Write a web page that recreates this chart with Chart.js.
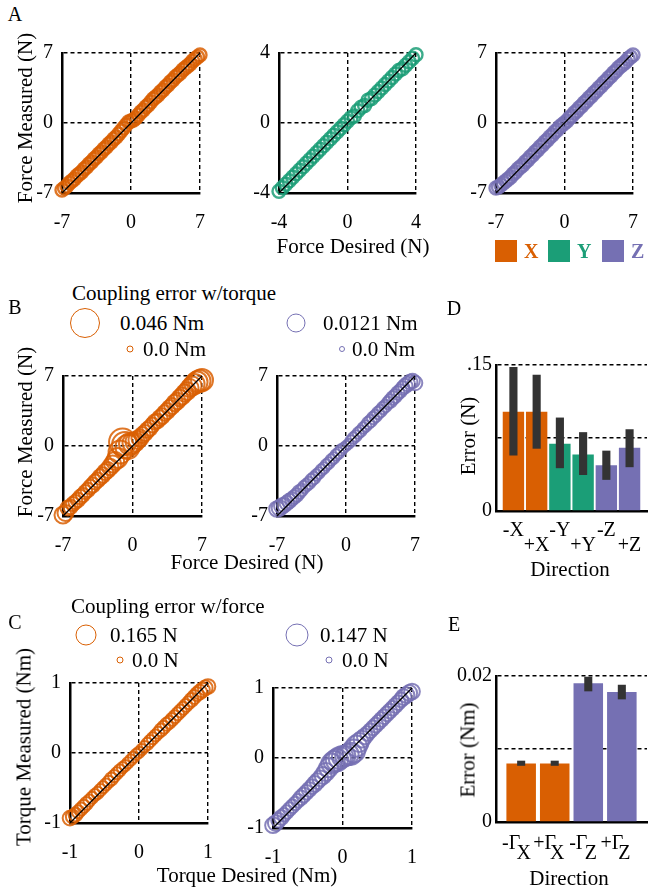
<!DOCTYPE html>
<html>
<head>
<meta charset="utf-8">
<script src="https://cdn.jsdelivr.net/npm/chart.js@4.4.1/dist/chart.umd.min.js"></script>
<style>
  html, body { margin: 0; padding: 0; background: #fff; overflow: hidden; }
  #fig { position: relative; width: 648px; height: 888px; overflow: hidden;
         font-family: 'Liberation Serif', 'DejaVu Serif', serif; color: #000; }
  #fig canvas { position: absolute; }
  .t { position: absolute; white-space: nowrap; font-size: 21px; line-height: 1; }
  .c { transform: translate(-50%, -50%); }
  .l { transform: translate(0, -50%); }
  .v { transform: translate(-50%, -50%) rotate(-90deg); }
  .ring { position: absolute; border-radius: 50%; box-sizing: border-box; transform: translate(-50%, -50%); }
  .sq { position: absolute; width: 22px; height: 22px; }
</style>
</head>
<body>
<div id="fig"></div>
<script>
// ---------- data ----------
const forceTicks = [-7, 0, 7];
const forceYTicks = [-4, 0, 4];
const torqueTicks = [-1, 0, 1];

const forceDesired = [-7, -6.75, -6.5, -6.25, -6, -5.75, -5.5, -5.25, -5, -4.75, -4.5, -4.25, -4, -3.75, -3.5, -3.25, -3, -2.75, -2.5,
  -2.25, -2, -1.75, -1.5, -1.25, -1, -0.75, -0.5, -0.25, 0, 0.25, 0.5, 0.75, 1, 1.25, 1.5, 1.75, 2, 2.25, 2.5, 2.75, 3, 3.25, 3.5,
  3.75, 4, 4.25, 4.5, 4.75, 5, 5.25, 5.5, 5.75, 6, 6.25, 6.5, 6.75, 7];
const measuredAX = [-6.7, -6.5, -6.3, -6.0, -5.8, -5.6, -5.3, -5.1, -4.9, -4.6, -4.4, -4.1, -3.9, -3.6, -3.4, -3.1, -2.9, -2.6, -2.4,
  -2.1, -1.9, -1.6, -1.4, -1.1, -0.8, -0.5, -0.2, 0.1, 0.2, 0.3, 0.5, 0.8, 1.1, 1.3, 1.6, 1.8, 2.1, 2.4, 2.6, 2.8, 3.1, 3.3, 3.6,
  3.8, 4.1, 4.3, 4.6, 4.8, 5.0, 5.3, 5.5, 5.7, 5.9, 6.2, 6.4, 6.6, 6.8];
const measuredAZ = [-6.5, -6.4, -6.2, -6.0, -5.8, -5.6, -5.4, -5.1, -4.9, -4.6, -4.4, -4.2, -3.9, -3.7, -3.4, -3.2, -2.9, -2.7, -2.4,
  -2.2, -1.9, -1.7, -1.4, -1.2, -0.9, -0.7, -0.4, -0.2, 0.0, 0.2, 0.5, 0.7, 1.0, 1.2, 1.5, 1.7, 2.0, 2.2, 2.5, 2.7, 3.0, 3.2, 3.5,
  3.7, 4.0, 4.2, 4.5, 4.7, 5.0, 5.2, 5.5, 5.7, 5.9, 6.1, 6.4, 6.6, 6.8];

const yDesired = [-4, -3.8, -3.6, -3.4, -3.2, -3, -2.8, -2.6, -2.4, -2.2, -2, -1.8, -1.6, -1.4, -1.2, -1, -0.8, -0.6, -0.4, -0.2, 0,
  0.2, 0.4, 0.6, 0.8, 1, 1.2, 1.4, 1.6, 1.8, 2, 2.2, 2.4, 2.6, 2.8, 3, 3.2, 3.4, 3.6, 3.8, 4];
const measuredAY = [-3.9, -3.7, -3.5, -3.3, -3.1, -2.9, -2.7, -2.5, -2.3, -2.1, -1.9, -1.7, -1.5, -1.3, -1.1, -0.9, -0.7, -0.5, -0.3, -0.1, 0.1,
  0.3, 0.4, 0.7, 0.9, 1.0, 1.3, 1.4, 1.6, 1.8, 2.0, 2.2, 2.4, 2.6, 2.8, 3.0, 3.1, 3.3, 3.5, 3.7, 3.9];

// B: force with coupling error in torque (Nm)
const measuredBX = [-6.9, -6.7, -6.2, -6.1, -5.8, -5.6, -5.4, -5.1, -4.9, -4.6, -4.4, -4.1, -3.9, -3.6, -3.4, -3.1, -2.9, -2.6, -2.4,
  -2.1, -1.8, -1.5, -1.2, -0.6, 0.4, 0.1, -0.1, 0.2, 0.3, 0.4, 0.6, 0.8, 1.1, 1.3, 1.6, 1.8, 2.1, 2.4, 2.5, 2.8, 3.0, 3.3, 3.5,
  3.8, 4.0, 4.3, 4.5, 4.8, 5.0, 5.3, 5.5, 5.8, 6.0, 6.2, 6.4, 6.5, 6.6];
const couplingBX = [0.020, 0.018, 0.016, 0.015, 0.014, 0.014, 0.015, 0.015, 0.014, 0.014, 0.015, 0.015, 0.016, 0.016, 0.016, 0.017, 0.017,
  0.018, 0.018, 0.019, 0.020, 0.022, 0.026, 0.032, 0.040, 0.038, 0.034, 0.030, 0.026, 0.024, 0.022, 0.020, 0.018, 0.018, 0.017, 0.017,
  0.016, 0.016, 0.016, 0.017, 0.017, 0.017, 0.018, 0.018, 0.018, 0.019, 0.019, 0.019, 0.020, 0.020, 0.021, 0.022, 0.024, 0.026, 0.028,
  0.030, 0.030];
const measuredBZ = [-6.3, -6.2, -6.0, -5.9, -5.7, -5.5, -5.3, -5.1, -4.9, -4.6, -4.4, -4.1, -3.9, -3.7, -3.4, -3.2, -2.9, -2.7, -2.4,
  -2.2, -1.9, -1.7, -1.4, -1.2, -0.9, -0.7, -0.4, -0.2, 0.0, 0.2, 0.5, 0.8, 1.0, 1.3, 1.5, 1.8, 2.0, 2.3, 2.5, 2.8, 3.0, 3.3, 3.5,
  3.8, 4.0, 4.3, 4.5, 4.8, 5.0, 5.3, 5.5, 5.8, 6.0, 6.2, 6.4, 6.5, 6.3];
const couplingBZ = [0.009, 0.009, 0.009, 0.008, 0.008, 0.008, 0.007, 0.007, 0.007, 0.007, 0.006, 0.006, 0.006, 0.006, 0.006, 0.006, 0.005,
  0.005, 0.005, 0.005, 0.005, 0.005, 0.005, 0.005, 0.005, 0.005, 0.005, 0.004, 0.004, 0.004, 0.005, 0.005, 0.005, 0.005, 0.005, 0.005,
  0.005, 0.006, 0.006, 0.006, 0.006, 0.006, 0.006, 0.006, 0.006, 0.006, 0.007, 0.007, 0.007, 0.007, 0.007, 0.007, 0.008, 0.008, 0.008,
  0.008, 0.008];
const couplingMaxB = [0.046, 0.0121];

// C: torque with coupling error in force (N)
const torqueDesired = [-1, -0.96, -0.92, -0.88, -0.84, -0.8, -0.76, -0.72, -0.68, -0.64, -0.6, -0.56, -0.52, -0.48, -0.44, -0.4, -0.36,
  -0.32, -0.28, -0.24, -0.2, -0.16, -0.12, -0.08, -0.04, 0, 0.04, 0.08, 0.12, 0.16, 0.2, 0.24, 0.28, 0.32, 0.36, 0.4, 0.44, 0.48, 0.52,
  0.56, 0.6, 0.64, 0.68, 0.72, 0.76, 0.8, 0.84, 0.88, 0.92, 0.96, 1];
const measuredCX = [-0.93, -0.91, -0.88, -0.84, -0.8, -0.76, -0.72, -0.68, -0.64, -0.6, -0.57, -0.53, -0.49, -0.45, -0.41, -0.37, -0.33,
  -0.29, -0.25, -0.21, -0.18, -0.14, -0.1, -0.06, -0.02, 0.01, 0.05, 0.09, 0.13, 0.17, 0.21, 0.25, 0.29, 0.33, 0.37, 0.41, 0.44, 0.48, 0.52,
  0.56, 0.6, 0.64, 0.68, 0.72, 0.76, 0.8, 0.84, 0.87, 0.9, 0.93, 0.95];
const couplingCX = [0.09, 0.08, 0.08, 0.07, 0.07, 0.07, 0.07, 0.06, 0.06, 0.06, 0.06, 0.06, 0.06, 0.06, 0.06, 0.07, 0.06, 0.06, 0.06,
  0.05, 0.05, 0.05, 0.05, 0.05, 0.05, 0.05, 0.05, 0.05, 0.06, 0.06, 0.06, 0.06, 0.06, 0.07, 0.07, 0.07, 0.07, 0.07, 0.07, 0.07, 0.07,
  0.07, 0.07, 0.07, 0.08, 0.08, 0.08, 0.09, 0.09, 0.09, 0.09];
const measuredCZ = [-0.96, -0.93, -0.89, -0.85, -0.81, -0.77, -0.73, -0.69, -0.65, -0.61, -0.57, -0.53, -0.49, -0.45, -0.41, -0.37, -0.33,
  -0.29, -0.25, -0.2, -0.14, -0.08, -0.05, -0.03, 0.0, 0.02, 0.03, 0.05, 0.06, 0.1, 0.17, 0.22, 0.27, 0.31, 0.35, 0.39, 0.43, 0.47, 0.51,
  0.55, 0.59, 0.63, 0.67, 0.71, 0.75, 0.79, 0.83, 0.87, 0.9, 0.93, 0.95];
const couplingCZ = [0.08, 0.08, 0.07, 0.07, 0.06, 0.06, 0.06, 0.06, 0.06, 0.06, 0.07, 0.07, 0.07, 0.07, 0.07, 0.08, 0.08, 0.08, 0.09,
  0.1, 0.11, 0.12, 0.13, 0.14, 0.14, 0.13, 0.12, 0.13, 0.14, 0.145, 0.13, 0.11, 0.09, 0.08, 0.07, 0.07, 0.07, 0.07, 0.07, 0.07, 0.07,
  0.07, 0.07, 0.07, 0.07, 0.07, 0.07, 0.08, 0.08, 0.08, 0.08];
const couplingMaxC = [0.165, 0.147];

// D: force error per direction (N)
const dirD = ['-X', '+X', '-Y', '+Y', '-Z', '+Z'];
const errD = [0.102, 0.102, 0.069, 0.058, 0.047, 0.065];
const errDLow = [0.057, 0.064, 0.044, 0.037, 0.032, 0.045];
const errDHigh = [0.148, 0.140, 0.096, 0.081, 0.062, 0.084];
const yTicksD = [0, 0.075, 0.15];
const yLabelsD = ['0', '', '.15'];

// E: torque error per direction (Nm)
const dirE = ['-ΓX', '+ΓX', '-ΓZ', '+ΓZ'];
const errE = [0.0080, 0.0080, 0.0190, 0.0178];
const errELow = [0.0077, 0.0077, 0.0179, 0.0168];
const errEHigh = [0.0084, 0.0084, 0.0199, 0.0188];
const yTicksE = [0, 0.01, 0.02];
const yLabelsE = ['0', '', '0.02'];

// ---------- style ----------
const ORANGE = '#d95f02', GREEN = '#1b9e77', PURPLE = '#7570b3';
const FONT = 'Liberation Serif';
Chart.defaults.font.family = FONT;
Chart.defaults.color = '#000';
const PADL = 44, PADT = 12, PADR = 12;

const fig = document.getElementById('fig');

function text(str, x, y, cls, css) {
  const d = document.createElement('div');
  d.className = 't ' + cls;
  d.textContent = str;
  d.style.left = x + 'px';
  d.style.top = y + 'px';
  Object.assign(d.style, css || {});
  fig.appendChild(d);
}
function ring(x, y, r, color) {
  const d = document.createElement('div');
  d.className = 'ring';
  d.style.left = x + 'px';
  d.style.top = y + 'px';
  d.style.width = d.style.height = (2 * r) + 'px';
  d.style.border = '1.5px solid ' + color;
  fig.appendChild(d);
}
function addCanvas(box, padB) {
  const cv = document.createElement('canvas');
  cv.width = box.w + PADL + PADR;
  cv.height = box.h + PADT + padB;
  cv.style.left = (box.l - PADL) + 'px';
  cv.style.top = (box.t - PADT) + 'px';
  fig.appendChild(cv);
  return cv;
}
function fa(c, a) {
  const n = parseInt(c.slice(1), 16);
  return `rgba(${n >> 16},${(n >> 8) & 255},${n & 255},${a})`;
}

function linAxis(ticks, isX) {
  return {
    type: 'linear', min: ticks[0], max: ticks[ticks.length - 1],
    afterBuildTicks: s => { s.ticks = ticks.map(v => ({ value: v })); },
    afterFit: s => { if (isX) s.height = 44; else s.width = PADL; },
    grid: { color: '#000', lineWidth: 1.4, drawTicks: false },
    border: { color: '#000', width: 2.5, dash: [4, 3] },
    ticks: { padding: isX ? 18 : 9, color: '#000', font: { family: FONT, size: 20 } }
  };
}

function scatterPanel(box, ticks, xs, ys, color, radii) {
  const pts = xs.map((x, i) => radii ? { x, y: ys[i], r: radii[i] } : { x, y: ys[i] });
  const lo = ticks[0], hi = ticks[ticks.length - 1];
  new Chart(addCanvas(box, 44), {
    type: radii ? 'bubble' : 'scatter',
    data: {
      datasets: [
        { type: 'line', data: [{ x: lo, y: lo }, { x: hi, y: hi }], borderColor: '#000',
          borderWidth: 1.3, pointRadius: 0, clip: false },
        { data: pts, backgroundColor: 'rgba(0,0,0,0)', borderColor: fa(color, 0.85),
          borderWidth: radii ? 2 : 2.4, pointRadius: 6.5, clip: false }
      ]
    },
    options: {
      responsive: false, animation: false,
      layout: { padding: { top: PADT, right: PADR, left: 0, bottom: 0 } },
      plugins: { legend: { display: false }, tooltip: { enabled: false } },
      scales: { x: linAxis(ticks, true), y: linAxis(ticks, false) }
    }
  });
}

function barPanel(box, labels, vals, low, high, colors, yTicks, yLabels, barPct, errPct, lineH, pad, fmt) {
  const xs = labels.map((_, i) => i + 1);
  new Chart(addCanvas(box, 64), {
    type: 'bar',
    data: {
      datasets: [
        { data: xs.map((x, i) => ({ x, y: [low[i], high[i]] })), backgroundColor: '#333333',
          barPercentage: errPct, categoryPercentage: 1, grouped: false },
        { data: xs.map((x, i) => ({ x, y: vals[i] })), backgroundColor: colors,
          barPercentage: barPct, categoryPercentage: 1, grouped: false }
      ]
    },
    options: {
      responsive: false, animation: false,
      layout: { padding: { top: PADT, right: PADR, left: 0, bottom: 0 } },
      plugins: { legend: { display: false }, tooltip: { enabled: false } },
      scales: {
        x: {
          type: 'linear', min: 0.25, max: labels.length + 0.75, offset: false,
          afterBuildTicks: s => { s.ticks = xs.map(v => ({ value: v })); },
          afterFit: s => { s.height = 64; },
          grid: { display: false, offset: false },
          border: { color: '#000', width: 2.5 },
          ticks: { padding: pad, autoSkip: false, maxRotation: 0, color: '#000',
                   font: { family: FONT, size: 20, lineHeight: lineH },
                   callback: (v, i) => fmt(labels[i], i) }
        },
        y: {
          min: yTicks[0], max: yTicks[yTicks.length - 1],
          afterBuildTicks: s => { s.ticks = yTicks.map(v => ({ value: v })); },
          afterFit: s => { s.width = PADL; },
          grid: { color: '#000', lineWidth: 1.6, drawTicks: false },
          border: { color: '#000', width: 2.5, dash: [4, 3] },
          ticks: { padding: 4, color: '#000', font: { family: FONT, size: 20 },
                   callback: (v, i) => yLabels[i] }
        }
      }
    }
  });
}

// ---------- row A ----------
scatterPanel({ l: 62, t: 44, w: 149, h: 149 }, forceTicks, forceDesired, measuredAX, ORANGE);
scatterPanel({ l: 279, t: 44, w: 148, h: 149 }, forceYTicks, yDesired, measuredAY, GREEN);
scatterPanel({ l: 496, t: 44, w: 148, h: 149 }, forceTicks, forceDesired, measuredAZ, PURPLE);
text('A', 15, 14, 'c', { fontSize: '20px' });
text('Force Measured (N)', 25, 118, 'v');
text('Force Desired (N)', 353, 246, 'c');
[[ORANGE, 'X', 495], [GREEN, 'Y', 548], [PURPLE, 'Z', 602]].forEach(([c, s, x]) => {
  const d = document.createElement('div');
  d.className = 'sq';
  d.style.left = x + 'px'; d.style.top = '240px'; d.style.background = c;
  fig.appendChild(d);
  text(s, x + 29, 251, 'l', { color: c, fontWeight: 'bold', fontSize: '20px' });
});

// ---------- row B ----------
const rB = [[3.5, 15], [3, 9.5]];
const radB = (e, k) => rB[k][0] + e / couplingMaxB[k] * (rB[k][1] - rB[k][0]);
scatterPanel({ l: 63, t: 367, w: 150, h: 149 }, forceTicks, forceDesired, measuredBX, ORANGE, couplingBX.map(e => radB(e, 0)));
scatterPanel({ l: 277, t: 367, w: 149, h: 149 }, forceTicks, forceDesired, measuredBZ, PURPLE, couplingBZ.map(e => radB(e, 1)));
text('B', 15, 307, 'c', { fontSize: '20px' });
text('Coupling error w/torque', 72, 293, 'l');
ring(85, 323, radB(couplingMaxB[0], 0), ORANGE);
text(couplingMaxB[0] + ' Nm', 120, 323, 'l');
ring(130, 349, radB(0, 0), ORANGE);
text('0.0 Nm', 143, 349, 'l');
ring(296, 323, radB(couplingMaxB[1], 1), PURPLE);
text(couplingMaxB[1] + ' Nm', 323, 323, 'l');
ring(342, 349, radB(0, 1), PURPLE);
text('0.0 Nm', 352, 349, 'l');
text('Force Measured (N)', 25, 432, 'v');
text('Force Desired (N)', 247, 562, 'c');

// ---------- row C ----------
const rC = [[3.5, 10.5], [3.5, 11.5]];
const radC = (e, k) => rC[k][0] + e / couplingMaxC[k] * (rC[k][1] - rC[k][0]);
scatterPanel({ l: 70, t: 674, w: 149, h: 149 }, torqueTicks, torqueDesired, measuredCX, ORANGE, couplingCX.map(e => radC(e, 0)));
scatterPanel({ l: 273, t: 679, w: 150, h: 149 }, torqueTicks, torqueDesired, measuredCZ, PURPLE, couplingCZ.map(e => radC(e, 1)));
text('C', 15, 622, 'c', { fontSize: '20px' });
text('Coupling error w/force', 71, 606, 'l');
ring(86, 635, radC(couplingMaxC[0], 0), ORANGE);
text(couplingMaxC[0] + ' N', 110, 635, 'l');
ring(120, 660, radC(0, 0), ORANGE);
text('0.0 N', 132, 660, 'l');
ring(296.5, 635, radC(couplingMaxC[1], 1), PURPLE);
text(couplingMaxC[1] + ' N', 320, 635, 'l');
ring(329, 660, radC(0, 1), PURPLE);
text('0.0 N', 342, 660, 'l');
text('Torque Measured (Nm)', 24, 747, 'v');
text('Torque Desired (Nm)', 247, 875, 'c');

// ---------- D ----------
barPanel({ l: 496, t: 361, w: 151, h: 150 }, dirD, errD, errDLow, errDHigh,
  [ORANGE, ORANGE, GREEN, GREEN, PURPLE, PURPLE], yTicksD, yLabelsD, 0.92, 0.35, 0.75, 4,
  (s, i) => i % 2 ? ['', s] : [s]);
text('D', 454, 308, 'c', { fontSize: '20px' });
text('Error (N)', 468, 436, 'v');
text('Direction', 570, 569, 'c');

// ---------- E ----------
barPanel({ l: 496, t: 672, w: 151, h: 150 }, dirE, errE, errELow, errEHigh,
  [ORANGE, ORANGE, PURPLE, PURPLE], yTicksE, yLabelsE, 0.88, 0.24, 0.5, 9,
  s => [s.slice(0, 2) + '    ', ' ' + s.slice(2)]);
text('E', 454, 624, 'c', { fontSize: '20px' });
text('Error (Nm)', 468, 750, 'v');
text('Direction', 569, 878, 'c');
</script>
</body>
</html>
